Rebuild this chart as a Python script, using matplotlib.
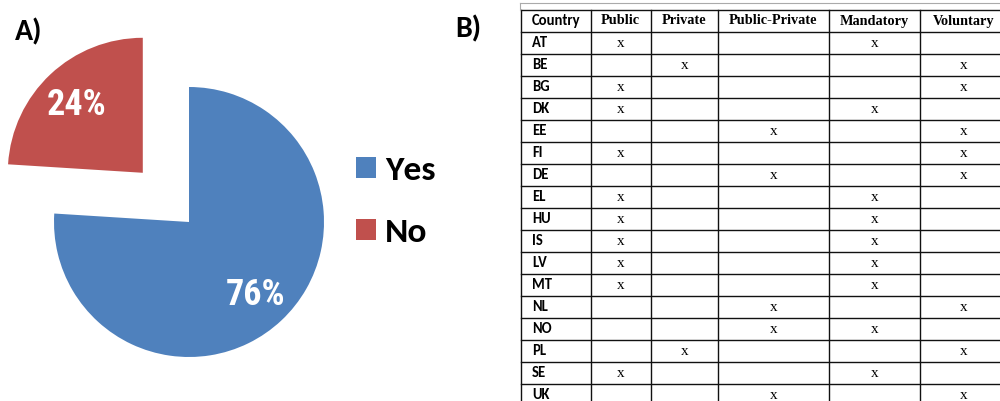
import matplotlib
matplotlib.use("Agg")
import matplotlib.pyplot as plt

# --- data ---
pie_labels = ["Yes", "No"]
pie_values = [76, 24]
pie_colors = ["#4F81BD", "#C0504D"]

columns = ["Public", "Private", "Public-Private", "Mandatory", "Voluntary"]
countries = ["AT", "BE", "BG", "DK", "EE", "FI", "DE", "EL", "HU",
             "IS", "LV", "MT", "NL", "NO", "PL", "SE", "UK"]
public = [1, 0, 1, 1, 0, 1, 0, 1, 1, 1, 1, 1, 0, 0, 0, 1, 0]
private = [0, 1, 0, 0, 0, 0, 0, 0, 0, 0, 0, 0, 0, 0, 1, 0, 0]
public_private = [0, 0, 0, 0, 1, 0, 1, 0, 0, 0, 0, 0, 1, 1, 0, 0, 1]
mandatory = [1, 0, 0, 1, 0, 0, 0, 1, 1, 1, 1, 1, 0, 1, 0, 1, 0]
voluntary = [0, 1, 1, 0, 1, 1, 1, 0, 0, 0, 0, 0, 1, 0, 1, 0, 1]

W, H = 1000, 401
fig = plt.figure(figsize=(W / 100, H / 100), dpi=100)

# --- A) pie ---
R = 135.0  # pixels per data unit
cx, cy = 189, 222
ax = fig.add_axes([0, 0, 450 / W, 1])
wedges, texts, autotexts = ax.pie(
    pie_values, colors=pie_colors, startangle=90, counterclock=False,
    explode=(0, 0.5), autopct=lambda p: "%.0f%%" % p, pctdistance=0.715,
    wedgeprops=dict(linewidth=0),
    textprops=dict(color="white", fontsize=26, fontweight="bold",
                   family="Roboto Condensed"))
for t in autotexts:
    # put the digits' visual middle on the label point
    t.set_va("baseline")
    t.set_y(t.get_position()[1] - 13 / R)
ax.set_aspect("auto")
ax.set_xlim(-cx / R, (450 - cx) / R)
ax.set_ylim(-(H - cy) / R, cy / R)
ax.axis("off")

fig.legend(wedges, pie_labels, loc="upper left",
           bbox_to_anchor=(356 / W, 1 - 156 / H), frameon=False,
           prop=dict(family="Carlito", weight="bold", size=25.5),
           handlelength=0.57, handleheight=0.57, handletextpad=0.25,
           labelspacing=0.93, borderpad=0, borderaxespad=0)

fig.text(15 / W, 1 - 40 / H, "A)", fontsize=21.5, fontweight="bold",
         family="Carlito", ha="left", va="baseline")
fig.text(455 / W, 1 - 37 / H, "B)", fontsize=21.5, fontweight="bold",
         family="Carlito", ha="left", va="baseline")

# --- B) table ---
col_widths = [69.7, 60, 67, 111, 91.6, 86]
row_h = 22
top = 10
n_rows = len(countries) + 1
tab_w = sum(col_widths)
tab_h = n_rows * row_h
tx = fig.add_axes([521 / W, (H - top - tab_h) / H, tab_w / W, tab_h / H])
tx.set_xlim(0, tab_w)
tx.set_ylim(n_rows, 0)
tx.axis("off")

edges = [0]
for w in col_widths:
    edges.append(edges[-1] + w)
for r in range(n_rows + 1):
    tx.plot([0, tab_w], [r, r], color="#111111", lw=1.0, clip_on=False)
for e in edges:
    tx.plot([e, e], [0, n_rows], color="#111111", lw=1.0, clip_on=False)
# faint frame line above the table
tx.plot([-1, tab_w], [-0.32, -0.32], color="#aaaaaa", lw=0.8, clip_on=False)
tx.plot([-1, -1], [-0.32, 0], color="#aaaaaa", lw=0.8, clip_on=False)

centers = [(edges[i] + edges[i + 1]) / 2 for i in range(len(col_widths))]
tx.text(11, 0.5, "Country", ha="left", va="center", fontsize=10.5,
        fontweight="bold", family="Carlito")
for i, name in enumerate(columns):
    tx.text(centers[i + 1], 0.5, name, ha="center", va="center",
            fontsize=10.3, fontweight="bold", family="Liberation Serif")

flags = [public, private, public_private, mandatory, voluntary]
for r, c in enumerate(countries):
    y = r + 1.5
    tx.text(11, y, c, ha="left", va="center", fontsize=10.5,
            fontweight="bold", family="Carlito")
    for j, col in enumerate(flags):
        if col[r]:
            tx.text(centers[j + 1], y + 0.02, "x", ha="center", va="center",
                    fontsize=11, family="Liberation Serif")

fig.savefig("out.png", dpi=100)
